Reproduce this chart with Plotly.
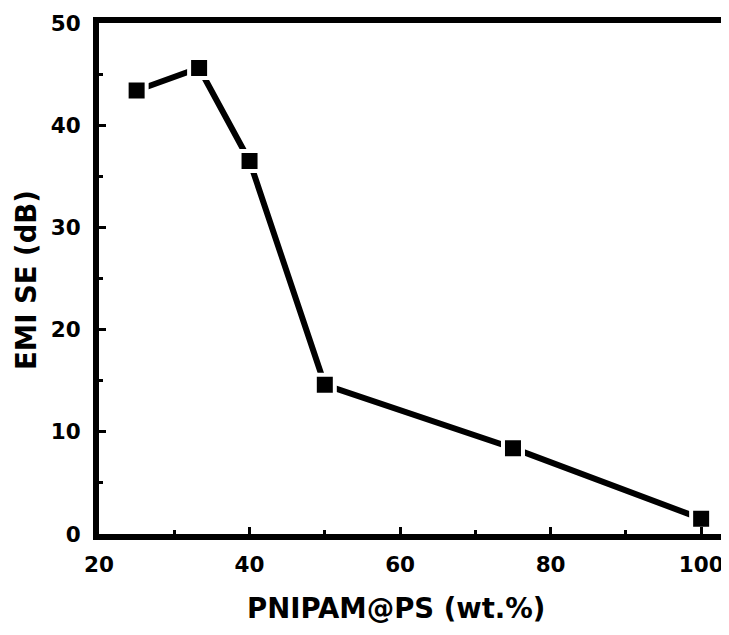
import plotly.graph_objects as go

x_vals = [25, 33.3, 40, 50, 75, 100]
y_vals = [43.4, 45.6, 36.5, 14.6, 8.4, 1.5]
x_ticks = [20, 40, 60, 80, 100]
y_ticks = [0, 10, 20, 30, 40, 50]
x_title = "PNIPAM@PS (wt.%)"
y_title = "EMI SE (dB)"

fig = go.Figure()
fig.add_trace(go.Scatter(
    x=x_vals, y=y_vals, mode="lines+markers",
    line=dict(color="black", width=6),
    marker=dict(symbol="square", size=20, color="black",
                line=dict(color="white", width=4)),
    showlegend=False, cliponaxis=False,
))

fam = "DejaVu Sans, Liberation Sans, Arial, sans-serif"
tick_font = dict(family=fam, size=21.5, color="black")
xt_font = dict(family=fam, size=27.5, color="black")
yt_font = dict(family=fam, size=27.5, color="black")

fig.update_layout(
    width=721, height=627,
    margin=dict(l=91, r=0, t=15, b=101, autoexpand=False),
    paper_bgcolor="white", plot_bgcolor="white",
    font=tick_font,
    annotations=[
        dict(text="<b>" + x_title + "</b>", xref="paper", yref="paper",
             x=0.4722, y=-0.1448, xanchor="center", yanchor="middle",
             showarrow=False, font=xt_font),
        dict(text="<b>" + y_title + "</b>", xref="paper", yref="paper",
             x=-0.1159, y=0.497, xanchor="center", yanchor="middle",
             textangle=-90, showarrow=False, font=yt_font),
    ],
)
fig.update_xaxes(
    range=[20, 103.7], tickvals=x_ticks,
    ticktext=["<b>%d</b>" % v for v in x_ticks],
    showgrid=False, zeroline=False, automargin=False,
    showline=True, linecolor="black", linewidth=6, mirror=True,
    ticks="inside", ticklen=7, tickwidth=3, tickcolor="black",
    minor=dict(ticks="inside", ticklen=4, tickwidth=3, tickcolor="black", dtick=10, tick0=30),
    tickfont=tick_font, ticklabelstandoff=6,
)
fig.update_yaxes(
    range=[0, 50], tickvals=y_ticks,
    ticktext=["<b>%d</b>" % v for v in y_ticks],
    showgrid=False, zeroline=False, automargin=False,
    showline=True, linecolor="black", linewidth=6, mirror=False,
    ticks="inside", ticklen=7, tickwidth=3, tickcolor="black",
    minor=dict(ticks="inside", ticklen=4, tickwidth=3, tickcolor="black", dtick=10, tick0=5),
    tickfont=tick_font, ticklabelstandoff=8,
)

fig.write_html("out.html")
